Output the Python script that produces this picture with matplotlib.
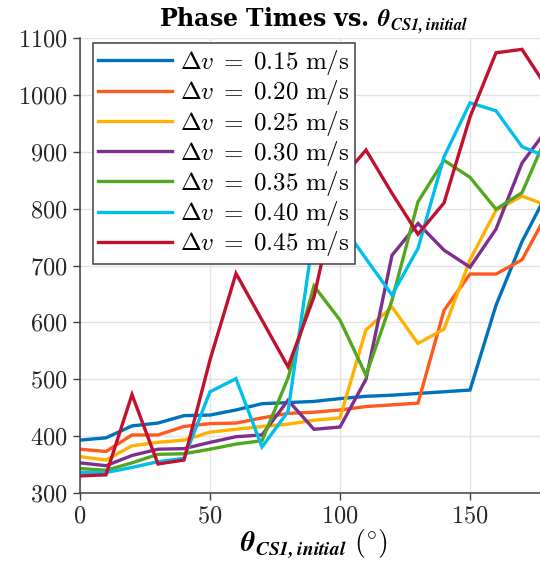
import numpy as np
import matplotlib
matplotlib.use("Agg")
import matplotlib.pyplot as plt

plt.rcParams['mathtext.fontset'] = 'cm'
plt.rcParams['font.family'] = 'serif'
plt.rcParams['font.serif'] = ['cmr10', 'DejaVu Serif']
plt.rcParams['axes.formatter.use_mathtext'] = True

# initial angle of CS1 (deg)
theta = np.arange(0, 181, 10)

dv_labels = ['0.15', '0.20', '0.25', '0.30', '0.35', '0.40', '0.45']

t_015 = [393, 397, 418, 423, 436, 437, 446, 457, 459, 461, 466, 470, 472, 475, 478, 481, 630, 742, 830]
t_020 = [377, 373, 402, 402, 417, 422, 423, 432, 440, 442, 446, 452, 455, 458, 621, 685, 685, 710, 794]
t_025 = [364, 358, 383, 389, 393, 407, 412, 417, 421, 428, 432, 587, 627, 563, 588, 710, 797, 822, 805]
t_030 = [353, 348, 366, 377, 378, 389, 399, 402, 463, 412, 416, 500, 718, 774, 727, 697, 764, 880, 942]
t_035 = [343, 340, 353, 368, 369, 377, 386, 392, 502, 664, 604, 507, 639, 812, 885, 855, 799, 828, 933]
t_040 = [336, 336, 345, 355, 361, 478, 501, 381, 443, 760, 776, 712, 648, 730, 891, 986, 972, 909, 890]
t_045 = [330, 332, 473, 351, 358, 534, 686, 604, 522, 645, 850, 903, 827, 755, 810, 961, 1074, 1080, 1010]

series = [t_015, t_020, t_025, t_030, t_035, t_040, t_045]
colors = ['#0072BD', '#FF5A1E', '#FFB000', '#7E2F8E', '#53A71E', '#00BEEE', '#C3102F']

fig = plt.figure(figsize=(5.4, 5.69), dpi=100)
ax = fig.add_axes([80/540, 76/569, 468/540, 455/569])

for t, c, lab in zip(series, colors, dv_labels):
    ax.plot(theta, t, color=c, lw=2.4, label=r'$\Delta v\;=\;%s\ \mathrm{m/s}$' % lab,
            solid_joinstyle='miter')

ax.set_xlim(0, 180)
ax.set_ylim(300, 1100)
ax.set_xticks([0, 50, 100, 150])
ax.set_yticks(np.arange(300, 1101, 100))
ax.grid(True, color='#E3E3E3', lw=1)
ax.set_axisbelow(True)
for s in ['top', 'right']:
    ax.spines[s].set_visible(False)
for s in ['left', 'bottom']:
    ax.spines[s].set_color('#404040')
    ax.spines[s].set_linewidth(1.1)
ax.tick_params(direction='out', length=5, width=1, colors='#404040',
               labelcolor='#262626', labelsize=17.5, pad=4)

ax.set_title(r'Phase Times vs. $\mathbfit{\theta}_{\mathbfit{CS1,initial}}$',
             fontsize=17, fontfamily='DejaVu Serif', fontweight='bold', pad=8)
ax.set_xlabel(r'$\mathbfit{\theta}_{\mathbfit{CS1,initial}}\ \mathrm{(^{\circ})}$', fontsize=20,
              labelpad=0)

leg = ax.legend(loc='upper left', bbox_to_anchor=(13/468, 450/455), fontsize=18,
                handlelength=2.95, handletextpad=0.35, labelspacing=0.05,
                borderpad=0.2, borderaxespad=0, fancybox=False, framealpha=1)
leg.get_frame().set_edgecolor('#404040')
leg.get_frame().set_linewidth(1.1)

fig.savefig('out.png', dpi=100)
